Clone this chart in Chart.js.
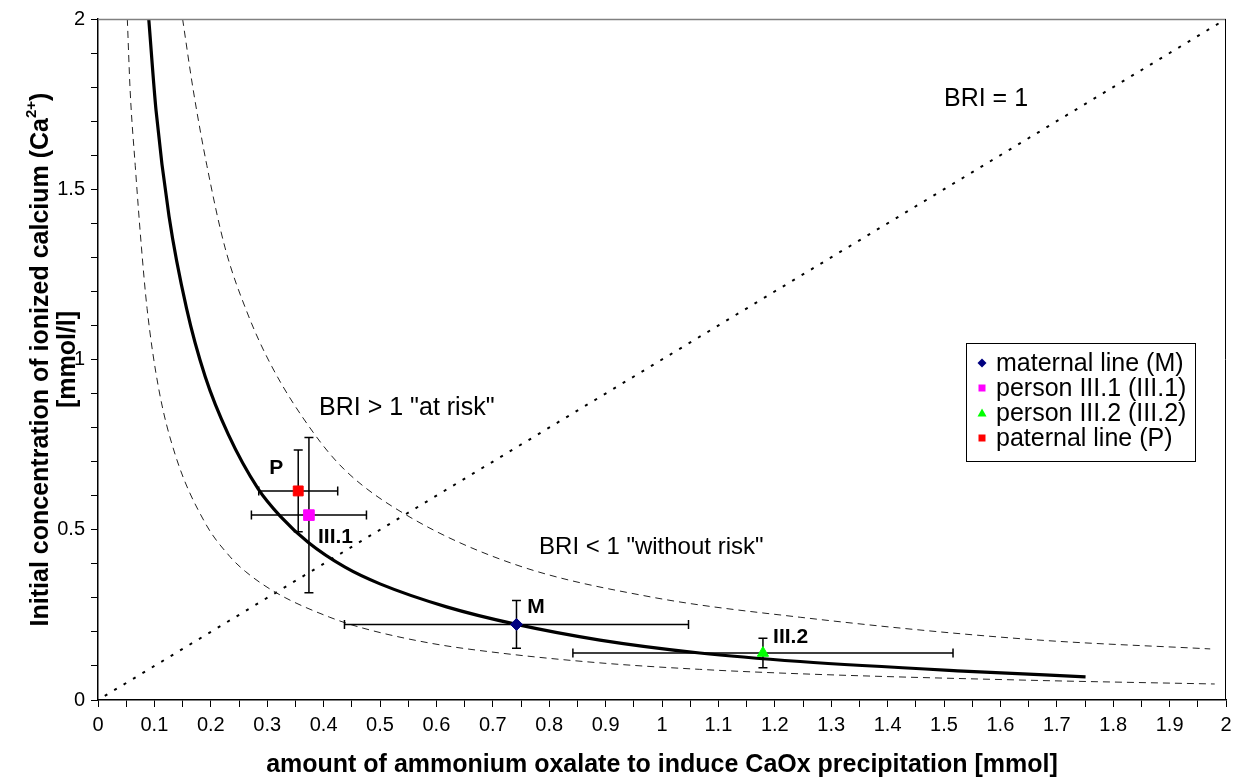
<!DOCTYPE html>
<html>
<head>
<meta charset="utf-8">
<script src="https://cdn.jsdelivr.net/npm/chart.js@4.4.1/dist/chart.umd.min.js"></script>
<style>
html,body{margin:0;padding:0;background:#fff;}
#wrap{width:1239px;height:784px;position:relative;}
canvas{display:block;}
</style>
</head>
<body>
<div id="wrap"><canvas id="c" width="1239" height="784"></canvas></div>
<script>
// ---------- data ----------
const xTickLabels = ['0','0.1','0.2','0.3','0.4','0.5','0.6','0.7','0.8','0.9','1','1.1','1.2','1.3','1.4','1.5','1.6','1.7','1.8','1.9','2'];
const yTickLabels = ['0','0.5','1','1.5','2'];

// thick BRI fitted curve
const briX = [0.090,0.103,0.126,0.157,0.190,0.231,0.284,0.323,0.373,0.438,0.500,0.618,0.742,0.890,1.067,1.245,1.534,1.751];
const briY = [2.000,1.730,1.420,1.150,0.950,0.780,0.620,0.540,0.4625,0.390,0.341,0.2735,0.222,0.176,0.138,0.113,0.085,0.068];

// upper dashed boundary
const upperX = [0.150,0.169,0.193,0.225,0.264,0.308,0.382,0.438,0.547,0.736,0.979,1.245,1.652,1.972];
const upperY = [2.000,1.790,1.570,1.330,1.140,0.980,0.785,0.675,0.543,0.400,0.303,0.243,0.178,0.150];

// lower dashed boundary
const lowerX = [0.052,0.057,0.066,0.077,0.087,0.107,0.137,0.190,0.234,0.261,0.317,0.411,0.470,0.589,0.713,0.890,1.067,1.245,1.652,1.980];
const lowerY = [2.000,1.790,1.570,1.330,1.150,0.920,0.720,0.520,0.421,0.378,0.314,0.243,0.211,0.167,0.138,0.109,0.090,0.077,0.058,0.047];

// BRI = 1 diagonal
const diagX = [0.012,1.99];
const diagY = [0.012,1.99];

// measured groups
const groupLabels = ['maternal line (M)','person III.1 (III.1)','person III.2 (III.2)','paternal line (P)'];
const groupX    = [0.742, 0.374, 1.179, 0.355];
const groupY    = [0.222, 0.543, 0.138, 0.614];
const groupXErr = [0.305, 0.102, 0.337, 0.070];
const groupYErr = [0.070, 0.228, 0.043, 0.120];
const groupTags = ['M','III.1','III.2','P'];

// ---------- texts ----------
const FONT = '"Liberation Sans", Arial, Helvetica, sans-serif';
const xTitle = 'amount of ammonium oxalate to induce CaOx precipitation [mmol]';
const yTitle1 = ['Initial concentration of ionized calcium (Ca', '2+', ')'];
const yTitle2 = '[mmol/l]';

const toPts = (xs, ys) => xs.map((x, i) => ({x: x, y: ys[i]}));

const markerStyles = [
  {style:'rectRot',  color:'#000080', r:6},
  {style:'rect',     color:'#FF00FF', r:7.5},
  {style:'triangle', color:'#00FF00', r:6.5},
  {style:'rect',     color:'#FF0000', r:7}
];

const pointSets = groupLabels.map((lab, i) => ({
  label: lab,
  data: [{x: groupX[i], y: groupY[i]}],
  errX: [groupXErr[i]],
  errY: [groupYErr[i]],
  showLine: false,
  pointStyle: markerStyles[i].style,
  pointRadius: markerStyles[i].r,
  pointBackgroundColor: markerStyles[i].color,
  pointBorderColor: markerStyles[i].color,
  backgroundColor: markerStyles[i].color,
  borderColor: markerStyles[i].color,
  pointBorderWidth: 1
}));
const legendOrder = [0,1,2,3];

const lineSets = [
  {label:'BRI curve', data: toPts(briX, briY), showLine:true, pointRadius:0, borderColor:'#000', borderWidth:3.2, cubicInterpolationMode:'monotone', fill:false},
  {label:'upper', data: toPts(upperX, upperY), showLine:true, pointRadius:0, borderColor:'#222', borderWidth:1, borderDash:[7,5], cubicInterpolationMode:'monotone', fill:false},
  {label:'lower', data: toPts(lowerX, lowerY), showLine:true, pointRadius:0, borderColor:'#222', borderWidth:1, borderDash:[7,5], cubicInterpolationMode:'monotone', fill:false},
  {label:'BRI = 1', data: toPts(diagX, diagY), showLine:true, pointRadius:0, borderColor:'#000', borderWidth:2, borderDash:[3,8], fill:false}
];

// ---------- plugins ----------
const framePlugin = {
  id:'frame',
  afterDatasetsDraw(chart){
    const {ctx, chartArea:a} = chart;
    ctx.save();
    ctx.lineWidth = 1.5;
    ctx.strokeStyle = '#808080';
    ctx.beginPath(); ctx.moveTo(a.left, a.top+0.5); ctx.lineTo(a.right, a.top+0.5); ctx.stroke();
    ctx.strokeStyle = '#000';
    ctx.lineWidth = 1;
    ctx.beginPath(); ctx.moveTo(a.right-0.5, a.top); ctx.lineTo(a.right-0.5, a.bottom); ctx.stroke();
    ctx.restore();
  }
};

const errorBarPlugin = {
  id:'errBars',
  beforeDatasetDraw(chart, args){
    const ds = chart.data.datasets[args.index];
    if (!ds.errX) return;
    const xs = chart.scales.x, ys = chart.scales.y, ctx = chart.ctx;
    ctx.save();
    ctx.strokeStyle = '#000';
    ctx.lineWidth = 1.5;
    ds.data.forEach((p, i) => {
      const ex = ds.errX[i], ey = ds.errY[i];
      const px = xs.getPixelForValue(p.x), py = ys.getPixelForValue(p.y);
      const x1 = xs.getPixelForValue(p.x - ex), x2 = xs.getPixelForValue(p.x + ex);
      const y1 = ys.getPixelForValue(p.y - ey), y2 = ys.getPixelForValue(p.y + ey);
      const c = 4.5;
      ctx.beginPath();
      ctx.moveTo(x1, py); ctx.lineTo(x2, py);
      ctx.moveTo(x1, py - c); ctx.lineTo(x1, py + c);
      ctx.moveTo(x2, py - c); ctx.lineTo(x2, py + c);
      ctx.moveTo(px, y1); ctx.lineTo(px, y2);
      ctx.moveTo(px - c, y1); ctx.lineTo(px + c, y1);
      ctx.moveTo(px - c, y2); ctx.lineTo(px + c, y2);
      ctx.stroke();
    });
    ctx.restore();
  }
};

// annotation anchors in data coordinates
const annotations = [
  {text:'BRI = 1', x:1.50, y:1.765, bold:false, size:25, align:'left'},
  {text:'BRI > 1 "at risk"', x:0.392, y:0.858, bold:false, size:25, align:'left'},
  {text:'BRI < 1 "without risk"', x:0.782, y:0.449, bold:false, size:24, align:'left'},
  {text:groupTags[3], x:0.316, y:0.681, bold:true, size:21, align:'center'},
  {text:groupTags[1], x:0.390, y:0.479, bold:true, size:21, align:'left'},
  {text:groupTags[0], x:0.761, y:0.273, bold:true, size:21, align:'left'},
  {text:groupTags[2], x:1.197, y:0.185, bold:true, size:21, align:'left'}
];
const annotationPlugin = {
  id:'annot',
  afterDatasetsDraw(chart){
    const ctx = chart.ctx, xs = chart.scales.x, ys = chart.scales.y;
    ctx.save();
    ctx.fillStyle = '#000';
    ctx.textBaseline = 'middle';
    annotations.forEach(a => {
      ctx.font = (a.bold ? 'bold ' : '') + a.size + 'px ' + FONT;
      ctx.textAlign = a.align;
      ctx.fillText(a.text, xs.getPixelForValue(a.x), ys.getPixelForValue(a.y));
    });
    ctx.restore();
  }
};

function drawMarker(ctx, style, x, y, s, color){
  ctx.fillStyle = color;
  ctx.beginPath();
  if (style === 'rectRot') {
    ctx.moveTo(x, y - s - 1); ctx.lineTo(x + s + 1, y); ctx.lineTo(x, y + s + 1); ctx.lineTo(x - s - 1, y); ctx.closePath();
  } else if (style === 'triangle') {
    ctx.moveTo(x, y - s - 1); ctx.lineTo(x + s + 1, y + s); ctx.lineTo(x - s - 1, y + s); ctx.closePath();
  } else {
    ctx.rect(x - s, y - s, 2 * s, 2 * s);
  }
  ctx.fill();
}

const legendPlugin = {
  id:'boxLegend',
  afterDraw(chart){
    const ctx = chart.ctx;
    const L = 966, T = 343, R = 1195, B = 461;
    ctx.save();
    ctx.fillStyle = '#fff';
    ctx.fillRect(L, T, R - L, B - T);
    ctx.strokeStyle = '#000';
    ctx.lineWidth = 1;
    ctx.strokeRect(L + 0.5, T + 0.5, R - L, B - T);
    const items = legendOrder.map(i => chart.data.datasets[i]);
    items.forEach((d, i) => {
      const cy = T + 20 + 25 * i;
      drawMarker(ctx, d.pointStyle, 982, cy, 3.5, d.backgroundColor);
      ctx.fillStyle = '#000';
      ctx.font = '25px ' + FONT;
      ctx.textAlign = 'left';
      ctx.textBaseline = 'middle';
      ctx.fillText(d.label, 996, cy + 1);
    });
    ctx.restore();
  }
};

const yTitlePlugin = {
  id:'yTitle',
  afterDraw(chart){
    const ctx = chart.ctx, a = chart.chartArea;
    const cy = (a.top + a.bottom) / 2;
    const mainF = 'bold 25px ' + FONT, supF = 'bold 15px ' + FONT;
    ctx.save();
    ctx.fillStyle = '#000';
    ctx.textBaseline = 'middle';
    ctx.textAlign = 'left';
    ctx.font = mainF;
    const w1 = ctx.measureText(yTitle1[0]).width, w3 = ctx.measureText(yTitle1[2]).width;
    ctx.font = supF;
    const w2 = ctx.measureText(yTitle1[1]).width;
    const total = w1 + w2 + w3;
    ctx.translate(41, cy);
    ctx.rotate(-Math.PI / 2);
    let x = -total / 2;
    ctx.font = mainF; ctx.fillText(yTitle1[0], x, 0); x += w1;
    ctx.font = supF;  ctx.fillText(yTitle1[1], x, -9); x += w2;
    ctx.font = mainF; ctx.fillText(yTitle1[2], x, 0);
    ctx.restore();
    ctx.save();
    ctx.fillStyle = '#000';
    ctx.translate(68, cy);
    ctx.rotate(-Math.PI / 2);
    ctx.font = mainF;
    ctx.textAlign = 'center';
    ctx.textBaseline = 'middle';
    ctx.fillText(yTitle2, 0, 0);
    ctx.restore();
  }
};

// ---------- chart ----------
new Chart(document.getElementById('c'), {
  type:'scatter',
  data:{ datasets: pointSets.concat(lineSets) },
  options:{
    responsive:false,
    animation:false,
    events:[],
    layout:{ padding:{ top:19, right:13, left:0, bottom:0 } },
    plugins:{ legend:{display:false}, tooltip:{enabled:false} },
    scales:{
      x:{
        type:'linear', min:0, max:2,
        afterFit(s){ s.height = 84; },
        border:{ display:true, color:'#000', width:1.5 },
        grid:{ drawOnChartArea:false, drawTicks:true, tickLength:7, color:'#000', lineWidth:1 },
        ticks:{
          stepSize:0.05, autoSkip:false, maxRotation:0, minRotation:0, padding:6,
          color:'#000', font:{ family:FONT, size:20 },
          callback:(v, i) => (i % 2 === 0 ? xTickLabels[i / 2] : '')
        },
        title:{ display:true, text:xTitle, color:'#000', font:{ family:FONT, size:25, weight:'bold' }, padding:{ top:0, bottom:4 } }
      },
      y:{
        type:'linear', min:0, max:2,
        afterFit(s){ s.width = 98; },
        border:{ display:true, color:'#000', width:1.5 },
        grid:{ drawOnChartArea:false, drawTicks:true, tickLength:7, color:'#000', lineWidth:1 },
        ticks:{
          stepSize:0.1, autoSkip:false, padding:6,
          color:'#000', font:{ family:FONT, size:20 },
          callback:(v, i) => (i % 5 === 0 ? yTickLabels[i / 5] : '')
        },
        title:{ display:false }
      }
    }
  },
  plugins:[framePlugin, errorBarPlugin, annotationPlugin, legendPlugin, yTitlePlugin]
});
</script>
</body>
</html>
